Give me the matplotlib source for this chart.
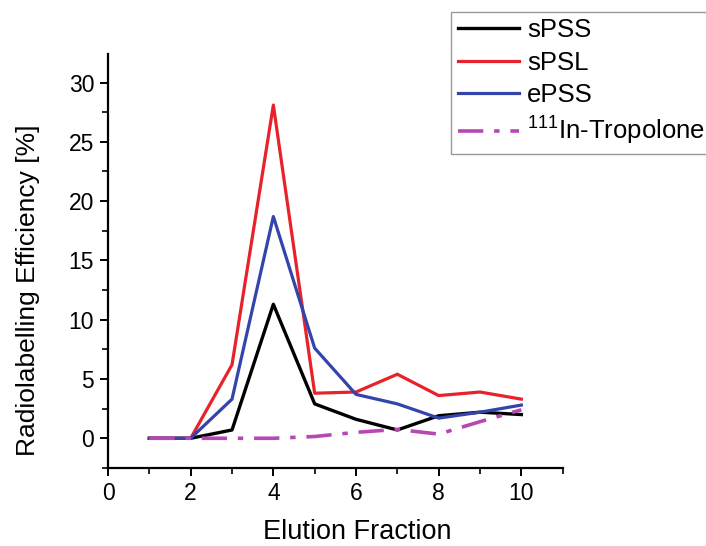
import matplotlib
matplotlib.use("Agg")
import matplotlib.pyplot as plt
from matplotlib.ticker import MultipleLocator

plt.rcParams['font.family'] = ['Liberation Sans', 'DejaVu Sans']
plt.rcParams['mathtext.fontset'] = 'custom'
plt.rcParams['mathtext.rm'] = 'Liberation Sans'

# elution fractions
fraction = [1, 2, 3, 4, 5, 6, 7, 8, 9, 10]
# radiolabelling efficiency [%]
spss = [0, 0, 0.7, 11.3, 2.9, 1.6, 0.7, 1.9, 2.2, 2.0]
spsl = [0, 0, 6.2, 28.1, 3.8, 3.9, 5.4, 3.6, 3.9, 3.3]
epss = [0, 0, 3.3, 18.7, 7.6, 3.7, 2.9, 1.7, 2.2, 2.8]
tropolone = [0, 0, 0, 0, 0.15, 0.5, 0.75, 0.35, 1.4, 2.4]

fig = plt.figure(figsize=(7.06, 5.46), dpi=100)
ax = fig.add_axes([0.153, 0.143, 0.644, 0.758])

ax.plot(fraction, spss, color='black', lw=2.4, label='sPSS')
ax.plot(fraction, spsl, color='#e8222a', lw=2.3, label='sPSL')
ax.plot(fraction, epss, color='#3344aa', lw=2.3, label='ePSS')
ax.plot(fraction, tropolone, color='#b548b5', lw=2.6,
        dashes=(7, 3, 1.5, 3), label='$\\mathregular{^{111}}$In-Tropolone')

ax.set_xlim(0, 11)
ax.set_ylim(-2.5, 32.4)
ax.xaxis.set_minor_locator(MultipleLocator(1))
ax.yaxis.set_minor_locator(MultipleLocator(2.5))
ax.set_xticks([0, 2, 4, 6, 8, 10])
ax.set_yticks([0, 5, 10, 15, 20, 25, 30])

for s in ['top', 'right']:
    ax.spines[s].set_visible(False)
for s in ['left', 'bottom']:
    ax.spines[s].set_linewidth(1.6)

ax.tick_params(which='major', direction='out', length=6, width=1.4,
               labelsize=16.5, pad=4)
ax.tick_params(which='minor', direction='out', length=4, width=1.2)

ax.set_xlabel('Elution Fraction', fontsize=19.5)
ax.set_ylabel('Radiolabelling Efficiency [%]', fontsize=19)
ax.xaxis.set_label_coords(0.549, -0.155)
ax.xaxis.label.set_va('center')
ax.yaxis.set_label_coords(-0.176, 0.43)
ax.yaxis.label.set_va('center')

leg = fig.legend(loc='upper left', bbox_to_anchor=(0.639, 0.978),
                 fontsize=18.5, handlelength=2.4, handletextpad=0.3,
                 labelspacing=0.32, borderpad=0.25, borderaxespad=0,
                 fancybox=False, framealpha=1)
leg.get_frame().set_edgecolor('#999999')
leg.get_frame().set_linewidth(1.0)

fig.savefig('out.png', dpi=100)
